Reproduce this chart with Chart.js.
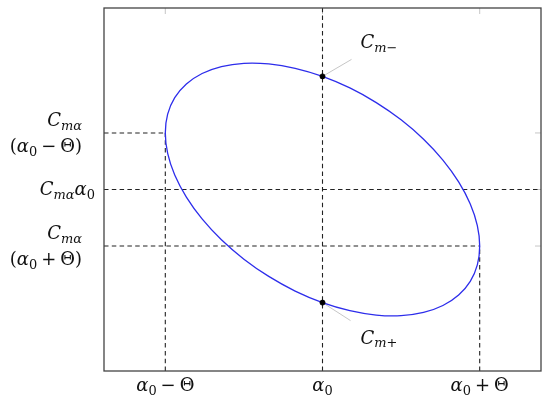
<!DOCTYPE html>
<html>
<head>
<meta charset="utf-8">
<script src="https://cdn.jsdelivr.net/npm/chart.js@4"></script>
<style>
html,body{margin:0;padding:0;background:#fff;}
#wrap{width:550px;height:404px;position:relative;}
</style>
</head>
<body>
<div id="wrap"><canvas id="c"></canvas></div>
<script>
// Ellipse (alpha offset in units of Theta, Cm offset in units of Cm_alpha*Theta).
// First and last entries overlap the loop so that the closing joint is smooth; those two segments are hidden.
const ellipseX = [0.985, 1, 0.985, 0.940, 0.866, 0.766, 0.643, 0.500, 0.342, 0.174, 0, -0.174, -0.342, -0.500, -0.643, -0.766, -0.866, -0.940, -0.985, -1,
                  -0.985, -0.940, -0.866, -0.766, -0.643, -0.500, -0.342, -0.174, 0, 0.174, 0.342, 0.500, 0.643, 0.766, 0.866, 0.940, 0.985, 1, 0.985];
const ellipseY = [-1.332, -1, -0.638, -0.256, 0.134, 0.520, 0.889, 1.232, 1.537, 1.796, 2.000, 2.143, 2.221, 2.232, 2.175, 2.052, 1.866, 1.624, 1.332, 1,
                  0.638, 0.256, -0.134, -0.520, -0.889, -1.232, -1.537, -1.796, -2.000, -2.143, -2.221, -2.232, -2.175, -2.052, -1.866, -1.624, -1.332, -1, -0.638];
const markX = [0, 0];
const markY = [2.0, -2.0];
const markLabels = ["C_{m−}", "C_{m+}"];
const xMin = -1.39, xMax = 1.39, yMin = -3.21, yMax = 3.21;
const xTickValues = [-1, 0, 1];
const xTickLabels = ["α_{0} − Θ", "α_{0}", "α_{0} + Θ"];
const yTickValues = [1, 0, -1];
const yTickLabels = [["C_{mα}", "(α_{0} − Θ)"], ["C_{mα}α_{0}"], ["C_{mα}", "(α_{0} + Θ)"]];
// guide lines: [x1,y1,x2,y2]
const guideLines = [
  [-1, yMin, -1, 1], [0, yMin, 0, yMax], [1, yMin, 1, -1],
  [xMin, 1, -1, 1], [xMin, 0, xMax, 0], [xMin, -1, 1, -1]
];

const FAM = "'DejaVu Serif', 'Liberation Serif', serif";
function parseMath(str){
  const toks=[]; let i=0;
  while(i<str.length){
    if(str[i]==='_' && str[i+1]==='{'){
      const j=str.indexOf('}',i);
      for(const ch of str.slice(i+2,j)) toks.push({ch,sub:true});
      i=j+1;
    } else { toks.push({ch:str[i],sub:false}); i++; }
  }
  return toks;
}
function fontFor(t,size){
  const s = t.sub ? size*0.72 : size;
  const it = /[A-Za-zα]/.test(t.ch);
  return (it?'italic ':'')+s+'px '+FAM;
}
function layoutMath(ctx,str,size){
  const toks=parseMath(str); let w=0; const out=[];
  for(const t of toks){
    if(t.ch===' '){ w += size*0.22; continue; }
    ctx.font=fontFor(t,size);
    const tw=ctx.measureText(t.ch).width;
    out.push({t,x:w}); w+=tw;
  }
  return {out,w};
}
function drawMath(ctx,str,x,yMid,align,size){
  const L=layoutMath(ctx,str,size);
  let x0 = align==='right'? x-L.w : align==='center'? x-L.w/2 : x;
  const base = yMid + size*0.33;
  ctx.textBaseline='alphabetic'; ctx.textAlign='left';
  for(const o of L.out){
    ctx.font=fontFor(o.t,size);
    ctx.fillText(o.t.ch, x0+o.x, base + (o.t.sub? size*0.22:0));
  }
}

const decor = {
  id:'decor',
  beforeDatasetsDraw(chart){
    const ctx=chart.ctx, xs=chart.scales.x, ys=chart.scales.y;
    ctx.save();
    ctx.strokeStyle='#b8b8b8'; ctx.lineWidth=0.8;
    const offs=[[29,-17],[28,18]];
    markX.forEach((v,i)=>{
      const px=xs.getPixelForValue(v), py=ys.getPixelForValue(markY[i]);
      ctx.beginPath(); ctx.moveTo(px,py); ctx.lineTo(px+offs[i][0],py+offs[i][1]); ctx.stroke();
    });
    const a=chart.chartArea;
    xTickValues.forEach(v=>{const px=xs.getPixelForValue(v); ctx.beginPath(); ctx.moveTo(px,a.top); ctx.lineTo(px,a.top+6); ctx.stroke();});
    yTickValues.forEach(v=>{const py=ys.getPixelForValue(v); ctx.beginPath(); ctx.moveTo(a.right,py); ctx.lineTo(a.right-6,py); ctx.stroke();});
    ctx.restore();
  },
  afterDraw(chart){
    const ctx=chart.ctx, xs=chart.scales.x, ys=chart.scales.y, a=chart.chartArea;
    ctx.save();
    ctx.strokeStyle='#444'; ctx.lineWidth=1.3;
    ctx.strokeRect(a.left,a.top,a.right-a.left,a.bottom-a.top);
    ctx.fillStyle='#111';
    const S=18;
    xTickValues.forEach((v,i)=>{
      drawMath(ctx,xTickLabels[i],xs.getPixelForValue(v),a.bottom+14,'center',S);
    });
    yTickValues.forEach((v,i)=>{
      const py=ys.getPixelForValue(v);
      const lines=yTickLabels[i];
      if(lines.length===1){ drawMath(ctx,lines[0],a.left-9,py,'right',S); }
      else {
        drawMath(ctx,lines[0],a.left-22,py-13,'right',S);
        drawMath(ctx,lines[1],a.left-22,py+13,'right',S);
      }
    });
    const loff=[[38,-34],[38,35]];
    markX.forEach((v,i)=>{
      const px=xs.getPixelForValue(v), py=ys.getPixelForValue(markY[i]);
      drawMath(ctx,markLabels[i],px+loff[i][0],py+loff[i][1],'left',S);
    });
    ctx.restore();
  }
};

const ELL_COLOR = 'rgb(45,45,235)';
const lastSeg = ellipseX.length - 2;
const datasets = [{
  data: ellipseX.map((x,i)=>({x, y: ellipseY[i]})),
  showLine:true, borderColor:ELL_COLOR, borderWidth:1.3, pointRadius:0, tension:0.4, order:1,
  segment:{ borderColor: c => (c.p0DataIndex===0 || c.p0DataIndex===lastSeg) ? 'rgba(0,0,0,0)' : ELL_COLOR }
},{
  data: markX.map((x,i)=>({x, y: markY[i]})),
  showLine:false, pointRadius:2.5, pointBackgroundColor:'#000', pointBorderColor:'#000', order:0
}];
guideLines.forEach(g=>datasets.push({
  data:[{x:g[0],y:g[1]},{x:g[2],y:g[3]}],
  showLine:true, borderColor:'#222', borderWidth:1.1, borderDash:[4.5,3.3], pointRadius:0, order:2
}));

new Chart(document.getElementById('c'), {
  type:'scatter',
  data:{datasets},
  options:{
    responsive:true, maintainAspectRatio:false, animation:false,
    layout:{padding:{left:104,top:8,right:9,bottom:33}},
    plugins:{legend:{display:false},tooltip:{enabled:false}},
    scales:{
      x:{type:'linear',display:false,min:xMin,max:xMax},
      y:{type:'linear',display:false,min:yMin,max:yMax}
    }
  },
  plugins:[decor]
});
</script>
</body>
</html>
